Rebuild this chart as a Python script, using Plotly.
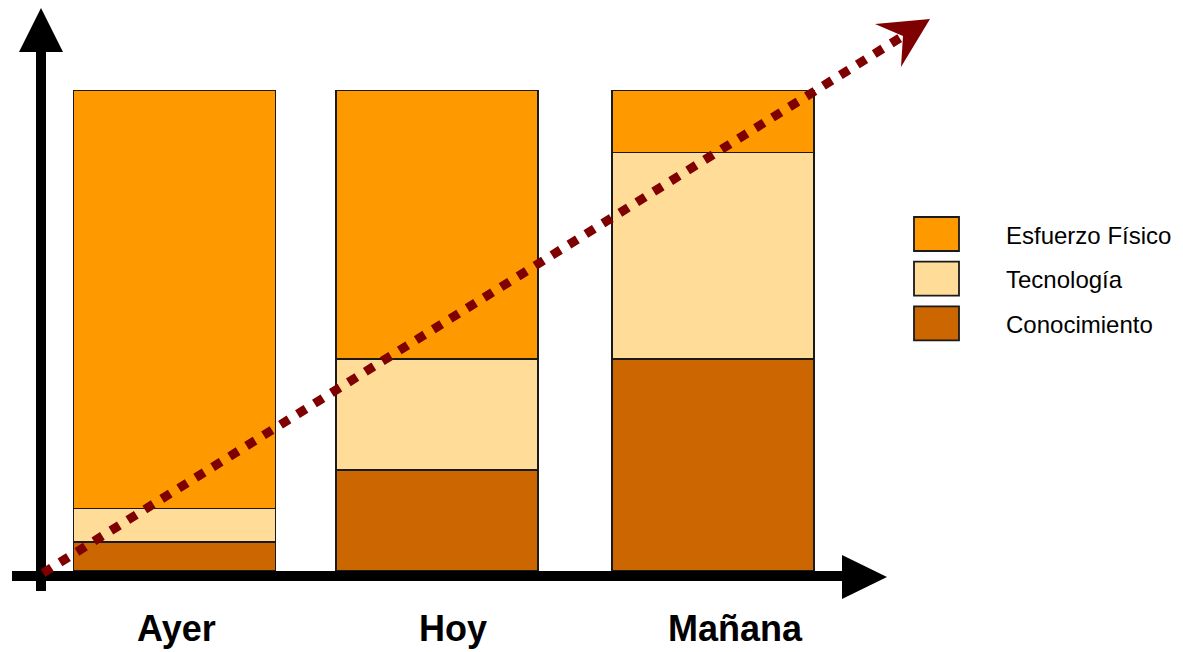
import plotly.graph_objects as go

# ---- data ----
categories = ["Ayer", "Hoy", "Mañana"]
conocimiento = [6, 21, 44]
tecnologia = [7, 23, 43]
esfuerzo = [87, 56, 13]
series_names = ["Conocimiento", "Tecnología", "Esfuerzo Físico"]
legend_order = ["Esfuerzo Físico", "Tecnología", "Conocimiento"]

# ---- style ----
W, H = 1183, 652
OFF = 8  # default page body margin
colors = {"Conocimiento": "#CC6600", "Tecnología": "#FFDD99", "Esfuerzo Físico": "#FF9900"}
FONT = "Liberation Sans Narrow, Arial Narrow, Liberation Sans, Arial, sans-serif"
label_shift = [2, 9, 23]
bar_offsets = [-0.375, -0.401, -0.375]


def px(x):
    return (x - OFF) / W


def py(y):
    return 1 - (y - OFF) / H


def path(points):
    return "M " + " L ".join(f"{px(x):.5f},{py(y):.5f}" for x, y in points) + " Z"


fig = go.Figure()
for name, vals in zip(series_names, [conocimiento, tecnologia, esfuerzo]):
    fig.add_trace(go.Bar(
        x=categories, y=vals, name=name, width=0.75, offset=bar_offsets,
        marker=dict(color=colors[name], line=dict(color="#1a1a1a", width=1.8)),
        showlegend=False, hoverinfo="skip",
    ))

shapes = []
# vertical axis
shapes.append(dict(type="line", xref="paper", yref="paper", x0=px(41), x1=px(41), y0=py(591), y1=py(50),
                   line=dict(color="black", width=10), layer="above"))
shapes.append(dict(type="path", xref="paper", yref="paper", path=path([(19, 52), (63, 52), (41, 8)]),
                   fillcolor="black", line=dict(width=0), layer="above"))
# horizontal axis
shapes.append(dict(type="line", xref="paper", yref="paper", x0=px(12), x1=px(845), y0=py(576), y1=py(576),
                   line=dict(color="black", width=10), layer="above"))
shapes.append(dict(type="path", xref="paper", yref="paper", path=path([(842, 555), (842, 599), (887, 577)]),
                   fillcolor="black", line=dict(width=0), layer="above"))
# dashed trend arrow
shapes.append(dict(type="line", xref="paper", yref="paper", x0=px(43), y0=py(573), x1=px(903), y1=py(36),
                   line=dict(color="#7F0000", width=9, dash="10px,10px"), layer="above"))
shapes.append(dict(type="path", xref="paper", yref="paper",
                   path=path([(930, 19), (875, 24), (903, 36), (901, 67)]),
                   fillcolor="#7F0000", line=dict(width=0), layer="above"))

annotations = []
# custom legend
for i, name in enumerate(legend_order):
    top = 217 + i * 44.7
    shapes.append(dict(type="rect", xref="paper", yref="paper", x0=px(914), x1=px(959), y0=py(top), y1=py(top + 34),
                       fillcolor=colors[name], line=dict(color="#1a1a1a", width=1.8)))
    annotations.append(dict(xref="paper", yref="paper", x=px(1004), y=py(top + 18), text=name,
                            xanchor="left", yanchor="middle", showarrow=False,
                            font=dict(family=FONT, size=24, color="black")))

# category labels
for cat, sh in zip(categories, label_shift):
    annotations.append(dict(xref="x", yref="paper", x=cat, y=py(628), xshift=sh, text=f"<b>{cat}</b>",
                            xanchor="center", yanchor="middle", showarrow=False,
                            font=dict(family=FONT, size=36, color="black")))

fig.update_layout(
    width=W, height=H,
    margin=dict(l=0, r=0, t=0, b=0),
    paper_bgcolor="white", plot_bgcolor="white",
    barmode="stack",
    xaxis=dict(domain=[px(39.9), px(847.6)], range=[-0.5, 2.5], showticklabels=False,
               showgrid=False, zeroline=False, showline=False, ticks=""),
    yaxis=dict(domain=[py(571), py(90)], range=[0, 100], showticklabels=False,
               showgrid=False, zeroline=False, showline=False, ticks=""),
    shapes=shapes, annotations=annotations,
    showlegend=False,
)

fig.write_html("out.html")
